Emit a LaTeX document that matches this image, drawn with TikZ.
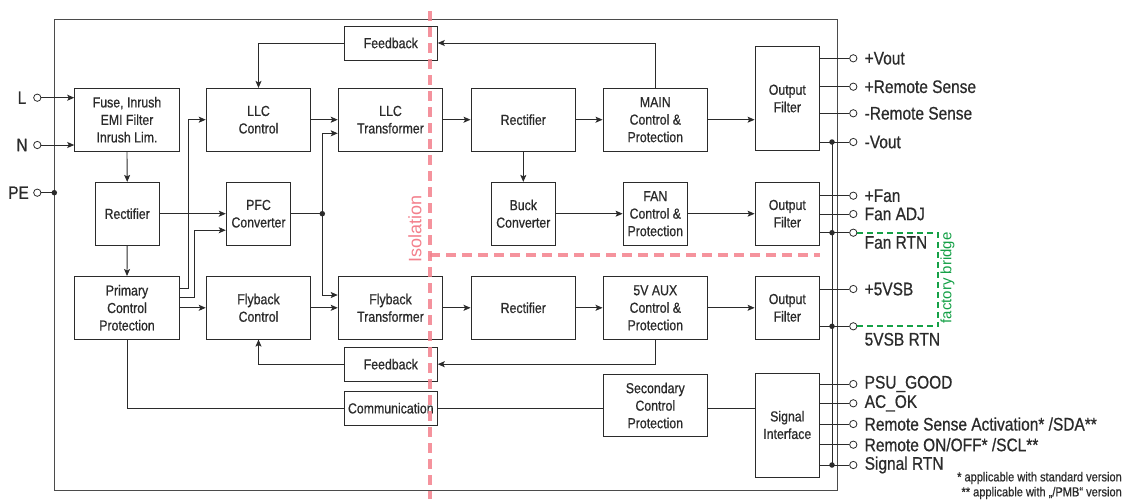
\documentclass[tikz,border=0pt]{standalone}
\usepackage{fontspec}
\setmainfont{Liberation Sans}[FakeStretch=0.85,FakeBold=0.7]
\newfontfamily\isofont{Liberation Sans}
\usetikzlibrary{arrows.meta,calc}
\definecolor{ink}{HTML}{2B2B2B}
\definecolor{iso}{RGB}{243,128,140}
\definecolor{bridge}{RGB}{20,160,70}
\begin{document}
\begin{tikzpicture}[x=1pt,y=-1pt,
  blk/.style={draw=ink, line width=0.9pt, fill=white, align=center, text=ink,
    font=\fontsize{14.5}{17.5}\selectfont, inner sep=0pt},
  wide/.style={blk, minimum width=104.6pt, minimum height=62.7pt},
  narrow/.style={blk, minimum width=64.5pt, minimum height=62.7pt},
  fbbox/.style={blk, minimum width=93pt, minimum height=34pt},
  conn/.style={draw=ink, line width=0.9pt},
  arr/.style={conn, -{Stealth[length=7pt,width=6pt,inset=1.5pt]}},
  pin/.style={circle, draw=ink, line width=0.8pt, fill=white, minimum size=7.3pt, inner sep=0pt},
  plabel/.style={anchor=west, text=ink, font=\fontsize{18.2}{20}\selectfont, inner sep=0pt},
  dot/.style={circle, fill=ink, minimum size=5.5pt, inner sep=0pt},
  note/.style={anchor=east, text=ink, font=\fontsize{13}{14}\selectfont, inner sep=0pt}]
\useasboundingbox (0,0) rectangle (1125,499);
% frame
\draw[draw=ink!85, line width=1pt] (54.3,19.5) rectangle (837.7,490);
% boxes
\node[wide] (fuse) at (127,119.7) {Fuse, Inrush\\EMI Filter\\Inrush Lim.};
\node[wide] (llcc) at (258.5,119.7) {LLC\\Control};
\node[wide] (llct) at (390.5,119.7) {LLC\\Transformer};
\node[fbbox] (fbt) at (390.8,43) {Feedback};
\node[narrow] (rect1) at (127.2,213.7) {Rectifier};
\node[narrow] (pfc) at (258.5,213.7) {PFC\\Converter};
\node[wide] (rect2) at (523.3,119.7) {Rectifier};
\node[wide] (main) at (655.3,119.7) {MAIN\\Control \&\\Protection};
\node[narrow] (buck) at (523.3,213.7) {Buck\\Converter};
\node[narrow] (fan) at (655.3,213.7) {FAN\\Control \&\\Protection};
\node[narrow, minimum height=104.4pt] (of1) at (787.3,98.5) {Output\\Filter};
\node[narrow] (of2) at (787.3,213.7) {Output\\Filter};
\node[wide] (pcp) at (127,307.8) {Primary\\Control\\Protection};
\node[wide] (flyc) at (258.5,307.8) {Flyback\\Control};
\node[wide] (flyt) at (390.5,307.8) {Flyback\\Transformer};
\node[fbbox, minimum height=33.7pt] (fbb) at (390.8,364.2) {Feedback};
\node[fbbox, minimum height=33.7pt] (comm) at (390.8,408.2) {Communication};
\node[wide] (rect3) at (523.3,307.8) {Rectifier};
\node[wide] (aux) at (655.3,307.8) {5V AUX\\Control \&\\Protection};
\node[wide, minimum height=62.4pt] (sec) at (655.3,405.5) {Secondary\\Control\\Protection};
\node[narrow] (of3) at (787.3,307.8) {Output\\Filter};
\node[narrow, minimum height=104pt] (sig) at (787.3,425) {Signal\\Interface};
% inputs
\node[pin] (Lc) at (37.3,97.7) {};
\node[pin] (Nc) at (37.3,145) {};
\node[pin] (PEc) at (37.3,192.7) {};
\node[text=ink, font=\fontsize{18}{20}\selectfont, inner sep=0pt] (Lt) at (22,97.7) {L};
\node[text=ink, font=\fontsize{18}{20}\selectfont, inner sep=0pt] (Nt) at (22,145) {N};
\node[text=ink, font=\fontsize{18}{20}\selectfont, inner sep=0pt] (PEt) at (18.5,192.7) {PE};
\node[dot] (pedot) at (54.3,192.7) {};
\draw[arr] (Lc.east) -- (Lc.east -| fuse.west);
\draw[arr] (Nc.east) -- (Nc.east -| fuse.west);
\draw[conn] (PEc.east) -- (pedot.center);
% primary side
\draw[arr] (fuse.south) -- (rect1.north);
\draw[arr] (rect1.east) -- (pfc.west);
\node[dot] (jn) at (322.3,213.7) {};
\draw[conn] (pfc.east) -- (jn.center);
\draw[arr] (jn.center) |- ($(llct.west)+(0,13.6)$);
\draw[arr] (jn.center) |- ($(flyt.west)+(0,-12.8)$);
\draw[arr] (llcc.east) -- (llct.west);
\draw[arr] (flyc.east) -- (flyt.west);
\draw[arr] ($(pcp.east)+(0,-19.5)$) -- ++(8.4,0) |- (llcc.west);
\draw[arr] ($(pcp.east)+(0,-10.1)$) -- ++(15,0) |- ($(pfc.west)+(0,16.5)$);
\draw[arr] (pcp.east) -- (flyc.west);
\draw[arr] (rect1.south) -- (pcp.north);
\draw[arr] (fbt.west) -| (llcc.north);
\draw[arr] (main.north) |- (fbt.east);
\draw[arr] (aux.south) |- (fbb.east);
\draw[arr] (fbb.west) -| (flyc.south);
\draw[conn] (pcp.south) |- (comm.west);
\draw[conn] (comm.east) -- (comm.east -| sec.west);
\draw[conn] (sec.east |- comm.east) -- (sig.west |- comm.east);
% secondary side
\draw[arr] (llct.east) -- (rect2.west);
\draw[arr] (rect2.east) -- (main.west);
\draw[arr] (main.east) -- (main.east -| of1.west);
\draw[arr] (rect2.south) -- (buck.north);
\draw[arr] (buck.east) -- (fan.west);
\draw[arr] (fan.east) -- (of2.west);
\draw[arr] (flyt.east) -- (rect3.west);
\draw[arr] (rect3.east) -- (aux.west);
\draw[arr] (aux.east) -- (of3.west);
% outputs
\foreach \n/\y/\t in {pvout/58.3/{+Vout}, prs/86.7/{+Remote Sense}, mrs/113.3/{-Remote Sense}, mvout/142/{-Vout},
  pfan/195.7/{+Fan}, fadj/214/{Fan ADJ}, p5/289/{+5VSB},
  pgood/384/{PSU\_GOOD}, acok/403.3/{AC\_OK}, rsa/424/{Remote Sense Activation* /SDA**},
  ronoff/444.7/{Remote ON/OFF* /SCL**}, srtn/465/{Signal RTN}}{
  \node[pin] (\n) at (853.3,\y) {};
  \node[plabel] (\n t) at (864.5,\y) {\t};
}
\node[pin] (frtn) at (853.3,232.7) {};
\node[plabel] (frtnt) at (864.5,242.5) {Fan RTN};
\node[pin] (vrtn) at (853.3,326.3) {};
\node[plabel] (vrtnt) at (864.5,339.3) {5VSB RTN};
\foreach \n in {pvout,prs,mrs,mvout} \draw[conn] (of1.east |- \n) -- (\n.west);
\foreach \n in {pfan,fadj,frtn} \draw[conn] (of2.east |- \n) -- (\n.west);
\foreach \n in {p5,vrtn} \draw[conn] (of3.east |- \n) -- (\n.west);
\foreach \n in {pgood,acok,rsa,ronoff,srtn} \draw[conn] (sig.east |- \n) -- (\n.west);
\node[dot] (d1) at (832,142) {};
\node[dot] (d2) at (832,232.7) {};
\node[dot] (d3) at (832,326.3) {};
\node[dot] (d4) at (832,465) {};
\draw[conn] (d1.center) -- (d4.center);
% factory bridge
\coordinate (b1) at (938.3,232.7);
\coordinate (b2) at (938.3,326.3);
\draw[draw=bridge, line width=2pt, dash pattern=on 6pt off 4pt] (frtn.east) -- (b1) -- (b2) -- (vrtn.east);
\node[rotate=90, text=bridge, font=\isofont\fontsize{15}{16}\selectfont, inner sep=0pt] (fb) at (947.5,278) {factory bridge};
% isolation
\coordinate (i1) at (430,11);
\coordinate (i2) at (430,499);
\coordinate (i3) at (430,255);
\coordinate (i4) at (820,255);
\draw[draw=iso, opacity=0.85, line width=4.5pt, dash pattern=on 10pt off 6pt] (i1) -- (i2);
\draw[draw=iso, opacity=0.85, line width=4.5pt, dash pattern=on 10pt off 6pt] (i3) -- (i4);
\node[rotate=90, text=iso, font=\isofont\fontsize{18}{20}\selectfont, inner sep=0pt] (isot) at (415,229) {Isolation};
% notes
\node[note] (n1) at (1122,478) {* applicable with standard version};
\node[note] (n2) at (1122,493) {** applicable with „/PMB“ version};
\end{tikzpicture}
\end{document}
